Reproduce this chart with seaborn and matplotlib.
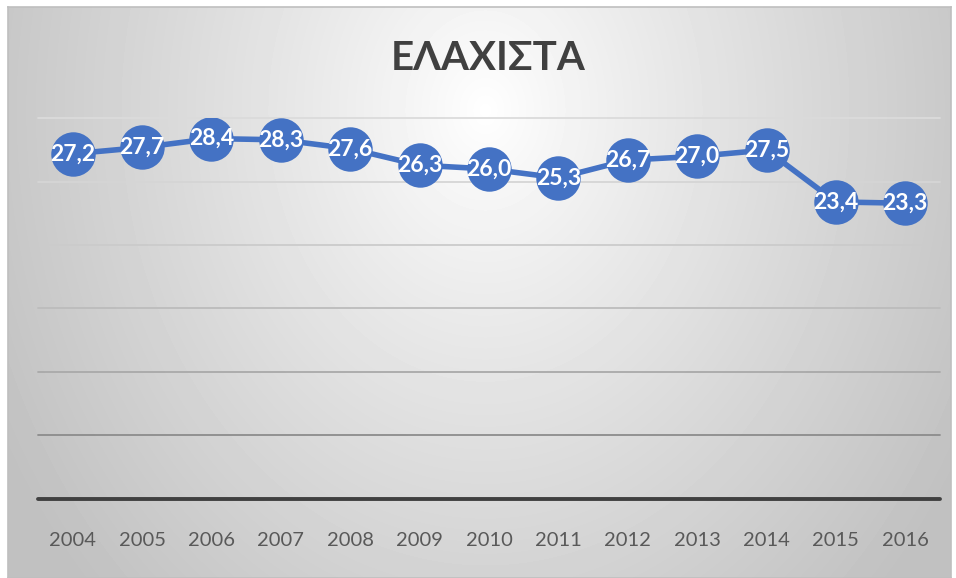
import numpy as np
import pandas as pd
import matplotlib
matplotlib.use("Agg")
import matplotlib.pyplot as plt
import seaborn as sns

# Data
years = ["2004", "2005", "2006", "2007", "2008", "2009", "2010",
         "2011", "2012", "2013", "2014", "2015", "2016"]
values = [27.2, 27.7, 28.4, 28.3, 27.6, 26.3, 26.0,
          25.3, 26.7, 27.0, 27.5, 23.4, 23.3]
title = "ΕΛΑΧΙΣΤΑ"
grid_levels = [5, 10, 15, 20, 25, 30]
grid_colors = ["#8c8c8c", "#a9a9a9", "#bcbcbc", "#cbcbcb", "#d5d5d5", "#dbdbdb"]

sns.set_theme(style="white")
plt.rcParams["font.family"] = ["Lato", "Open Sans", "DejaVu Sans"]

W, H = 956, 578
fig = plt.figure(figsize=(W / 100, H / 100), dpi=100)
fig.patch.set_facecolor("white")

# Chart area with a radial grey gradient
x0, y0, x1, y1 = 8, 7, 951, 578
bg = fig.add_axes([x0 / W, 1 - y1 / H, (x1 - x0) / W, (y1 - y0) / H], zorder=0)
xx, yy = np.meshgrid(np.arange(x0, x1), np.arange(y0, y1))
d = np.sqrt((xx - 485) ** 2 + ((yy - 110) * 0.8) ** 2)
shade = 255 - 57 * (d / 500) ** 0.9
shade = np.clip(shade, 193, 255) / 255
bg.imshow(shade, cmap="gray", vmin=0, vmax=1, aspect="auto",
          extent=(0, 1, 0, 1), interpolation="bilinear")
bg.set_xlim(0, 1)
bg.set_ylim(0, 1)
bg.set_xticks([])
bg.set_yticks([])
for s in bg.spines.values():
    s.set_color("#bfbfbf")
    s.set_linewidth(1.2)

# Plot area
top_px, bot_px = 118.3, 498.5
left_px, right_px = 38, 940
ax = fig.add_axes([left_px / W, 1 - bot_px / H,
                   (right_px - left_px) / W, (bot_px - top_px) / H], zorder=1)
ax.set_facecolor("none")

for lvl, col in zip(grid_levels, grid_colors):
    ax.axhline(lvl, color=col, linewidth=1.3, zorder=1, clip_on=False)
ax.axhline(0, color="#404040", linewidth=2.8, zorder=1, clip_on=False)

df = pd.DataFrame({"year": years, "value": values})
sns.lineplot(data=df, x="year", y="value", ax=ax, color="#4472C4",
             linewidth=4.0, marker="o", markersize=32,
             markeredgewidth=0, zorder=3, sort=False)

for i, v in enumerate(values):
    ax.text(i, v, f"{v:.1f}".replace(".", ","), ha="center", va="center",
            color="white", fontsize=16.5, fontweight="bold", zorder=4)

ax.set_xlim(-0.5, len(years) - 0.5)
ax.set_ylim(0, 30)
ax.set_yticks([])
ax.set_xlabel("")
ax.set_ylabel("")
ax.tick_params(axis="x", length=0, pad=24, labelsize=14.5, labelcolor="#595959")
for s in ax.spines.values():
    s.set_visible(False)

fig.text(488 / W, 1 - 58 / H, title, ha="center", va="center",
         fontsize=29, fontweight="bold", color="#404040")

fig.savefig("out.png", dpi=100, facecolor="white")
